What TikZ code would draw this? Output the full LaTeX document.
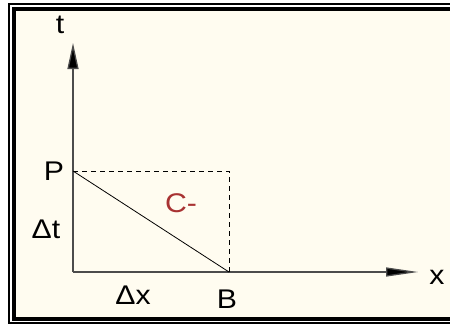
\documentclass[tikz,border=0pt]{standalone}
\usepackage{fontspec}
\setmainfont{Liberation Sans}
\newfontfamily\lblfont[FakeStretch=1.12]{Liberation Sans}
\usetikzlibrary{arrows.meta}
\definecolor{cream}{HTML}{FFFCF0}
\definecolor{cred}{HTML}{A83232}
\tikzset{
  lbl/.style={font=\lblfont\fontsize{27}{30}\selectfont, inner sep=0pt},
  axis/.style={draw=black!70, line width=1.3pt},
  thin/.style={draw=black, line width=0.8pt},
  dsh/.style={draw=black, line width=0.9pt, dash pattern=on 5pt off 4pt},
}
\begin{document}
\begin{tikzpicture}[x=1pt,y=1pt]
\useasboundingbox (0,0) rectangle (450,325);
\begin{scope}
\clip (0,0) rectangle (450,325);
\fill[white] (0,0) rectangle (450,325);
\fill[cream] (14,7) rectangle (460,316);
\draw[line width=2pt] (9,2) rectangle (470,321);
\draw[line width=4pt] (14,6.5) rectangle (470,316);
\end{scope}
% axes
\coordinate (O) at (73,53);
\coordinate (T) at (73,282);
\coordinate (X) at (418,53);
\coordinate (P) at (73,154);
\coordinate (B) at (229,53);
\coordinate (C) at (229,154);
\draw[axis, -{Triangle[length=26pt,width=11pt,fill=black]}] (O) -- (T);
\draw[axis, -{Triangle[length=32pt,width=9pt,fill=black]}] (O) -- (X);
\draw[dsh] (P) -- (C) -- (B);
\draw[thin] (P) -- (B);
% labels
\node[lbl] (lt) at (60,300) {t};
\node[lbl] (lx) at (437,48) {x};
\node[lbl] (lP) at (54,154) {P};
\node[lbl] (lB) at (227,26) {B};
\node[lbl] (ldt) at (46,96) {Δt};
\node[lbl] (ldx) at (133,30) {Δx};
\node[lbl, text=cred] (lC) at (181,122) {C-};
\end{tikzpicture}
\end{document}
